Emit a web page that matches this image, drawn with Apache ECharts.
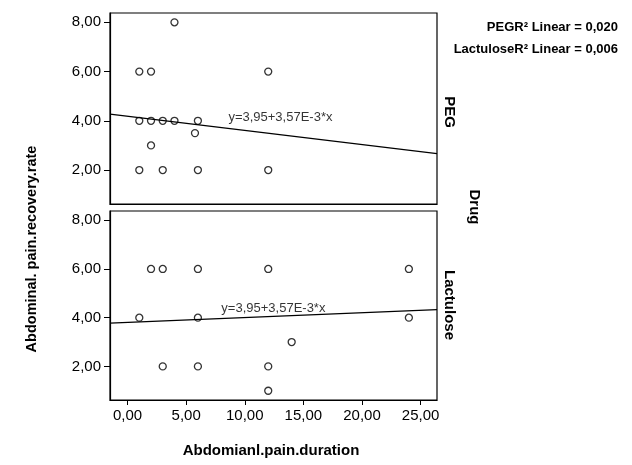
<!DOCTYPE html>
<html>
<head>
<meta charset="utf-8">
<title>Abdominal pain recovery rate by duration</title>
<script src="https://cdn.jsdelivr.net/npm/echarts@6/dist/echarts.min.js"></script>
<style>
  html, body { margin: 0; padding: 0; background: #fff; }
  #chart { width: 632px; height: 465px; }
</style>
</head>
<body>
<div id="chart"></div>
<script>
// panel names and the R2 legend lines
var panels = ['PEG', 'Lactulose'];
var r2Text = ['PEGR\u00b2 Linear = 0,020', 'LactuloseR\u00b2 Linear = 0,006'];

// PEG points (duration, recovery rate)
var pegX = [4, 1, 2, 12, 1, 2, 3, 4, 6, 5.75, 2, 1, 3, 6, 12];
var pegY = [8, 6, 6, 6, 4, 4, 4, 4, 4, 3.5, 3, 2, 2, 2, 2];

// Lactulose points
var lacX = [2, 3, 6, 12, 24, 1, 6, 24, 14, 3, 6, 12, 12];
var lacY = [6, 6, 6, 6, 6, 4, 4, 4, 3, 2, 2, 2, 1];

// fit lines, value at left and right edge of x range
var fitLine = [[4.27, 2.67], [3.78, 4.33]];
var fitLabel = 'y=3,95+3,57E-3*x';
var fitLabelPos = [[8.6, 4.15], [8.0, 4.4]];

var xTicks = [0, 5, 10, 15, 20, 25];
var yTicks = [2, 4, 6, 8];
var xMin = -1.5, xMax = 26.4;
var yMin = 0.62, yMax = 8.38;

function fmt(v) { return v.toFixed(2).replace('.', ','); }
function pairs(xs, ys) {
    var out = [];
    for (var i = 0; i < xs.length; i++) out.push([xs[i], ys[i]]);
    return out;
}

var font = 'Liberation Sans, Arial, sans-serif';
var chart = echarts.init(document.getElementById('chart'));

var grids = [
    {left: 110, top: 13, width: 327, height: 191, show: true, borderColor: '#000', borderWidth: 1.2},
    {left: 110, top: 211, width: 327, height: 189, show: true, borderColor: '#000', borderWidth: 1.2}
];

var xAxes = [], yAxes = [], series = [];
var ptsAll = [pairs(pegX, pegY), pairs(lacX, lacY)];
for (var g = 0; g < 2; g++) {
    xAxes.push({
        type: 'value', gridIndex: g, min: xMin, max: xMax,
        splitLine: {show: false},
        axisLine: {show: true, onZero: false, lineStyle: {color: '#000', width: 1.2}},
        axisTick: {show: g === 1, length: 5, customValues: xTicks, lineStyle: {color: '#000'}},
        axisLabel: {show: g === 1, customValues: xTicks, formatter: fmt,
            color: '#000', fontFamily: font, fontSize: 15, margin: 8}
    });
    yAxes.push({
        type: 'value', gridIndex: g, min: yMin, max: yMax,
        splitLine: {show: false},
        axisLine: {show: true, onZero: false, lineStyle: {color: '#000', width: 1.2}},
        axisTick: {show: true, length: 6, customValues: yTicks, lineStyle: {color: '#000'}},
        axisLabel: {customValues: yTicks, formatter: fmt,
            color: '#000', fontFamily: font, fontSize: 15, margin: 9}
    });
    series.push({
        type: 'scatter', name: panels[g], xAxisIndex: g, yAxisIndex: g,
        symbol: 'circle', symbolSize: 7,
        itemStyle: {color: '#fff', borderColor: '#000', borderWidth: 1.3},
        data: ptsAll[g]
    });
    series.push({
        type: 'line', xAxisIndex: g, yAxisIndex: g, symbol: 'none',
        lineStyle: {color: '#000', width: 1.2},
        data: [[xMin, fitLine[g][0]], [xMax, fitLine[g][1]]],
        silent: true
    });
    series.push({
        type: 'scatter', xAxisIndex: g, yAxisIndex: g, symbolSize: 0,
        label: {show: true, position: 'right', distance: 0, formatter: fitLabel,
            color: '#000', fontFamily: font, fontSize: 13},
        data: [fitLabelPos[g]], silent: true
    });
}

var boldText = {fill: '#000', fontFamily: font, fontWeight: 'bold', fontSize: 15,
    textAlign: 'center', textVerticalAlign: 'middle'};
function txt(str, x, y, rot, extra) {
    var st = Object.assign({}, boldText, extra || {}, {text: str});
    return {type: 'text', x: x, y: y, rotation: rot, style: st};
}

var option = {
    animation: false,
    grid: grids,
    xAxis: xAxes,
    yAxis: yAxes,
    series: series,
    graphic: [
        txt('Abdominal. pain.recovery.rate', 32, 249, Math.PI / 2, {fontSize: 14.5}),
        txt('Abdomianl.pain.duration', 271, 451, 0),
        txt(panels[0], 449, 112, -Math.PI / 2),
        txt(panels[1], 449, 305, -Math.PI / 2),
        txt('Drug', 474, 207, -Math.PI / 2),
        txt(r2Text[0], 618, 27, 0, {textAlign: 'right', fontSize: 13}),
        txt(r2Text[1], 618, 49, 0, {textAlign: 'right', fontSize: 13})
    ]
};
chart.setOption(option);
</script>
</body>
</html>
